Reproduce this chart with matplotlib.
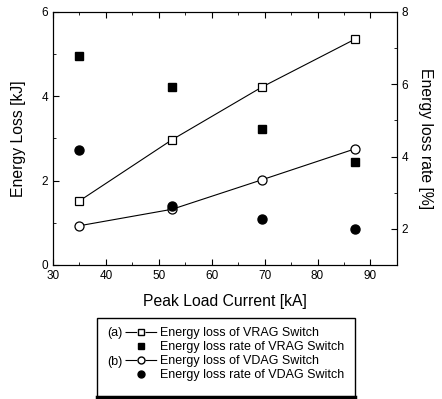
import matplotlib
matplotlib.use("Agg")
import matplotlib.pyplot as plt
from matplotlib.ticker import MultipleLocator
from matplotlib.lines import Line2D
from matplotlib.patches import Rectangle

plt.rcParams['font.family'] = ['Liberation Sans', 'DejaVu Sans']

current = [35, 52.5, 69.5, 87]
vrag_loss = [1.52, 2.97, 4.22, 5.35]
vdag_loss = [0.93, 1.32, 2.02, 2.75]
vrag_rate = [6.78, 5.93, 4.77, 3.86]
vdag_rate = [4.18, 2.63, 2.28, 2.0]

W, H = 442, 399
fig = plt.figure(figsize=(W / 100, H / 100), dpi=100)
ax = fig.add_axes([0.12, 0.336, 0.778, 0.634])
ax2 = ax.twinx()

ax.plot(current, vrag_loss, '-', color='black', lw=0.8, marker='s', ms=6,
        mfc='white', mec='black', mew=0.9)
ax.plot(current, vdag_loss, '-', color='black', lw=0.8, marker='o', ms=6.5,
        mfc='white', mec='black', mew=0.9)
ax2.plot(current, vrag_rate, 's', color='black', ms=5.5, ls='none')
ax2.plot(current, vdag_rate, 'o', color='black', ms=6.5, ls='none')

ax.set_xlim(30, 95)
ax.set_ylim(0, 6)
ax2.set_ylim(1, 8)
ax.xaxis.set_major_locator(MultipleLocator(10))
ax.xaxis.set_minor_locator(MultipleLocator(5))
ax.yaxis.set_major_locator(MultipleLocator(2))
ax.yaxis.set_minor_locator(MultipleLocator(1))
ax2.yaxis.set_major_locator(MultipleLocator(2))
ax2.yaxis.set_minor_locator(MultipleLocator(1))

ax.tick_params(which='both', direction='in', top=True, labelsize=8.5)
ax.tick_params(which='major', length=4)
ax.tick_params(which='minor', length=2)
ax2.tick_params(which='both', direction='in', labelsize=8.5)
ax2.tick_params(which='major', length=4)
ax2.tick_params(which='minor', length=2)

ax.set_xlabel('Peak Load Current [kA]', fontsize=11.3, labelpad=9)
ax.set_ylabel('Energy Loss [kJ]', fontsize=11.3, labelpad=11)
ax2.set_ylabel('Energy loss rate [%]', fontsize=11.3, rotation=270, labelpad=18)

# legend box
fig.patches.append(Rectangle((97 / W, 1 - 397 / H), (355 - 97) / W, (397 - 318) / H,
                             transform=fig.transFigure, fill=False, lw=1.0,
                             edgecolor='black'))
fig.add_artist(Line2D([97 / W, 355 / W], [1 - 396.5 / H, 1 - 396.5 / H],
                      transform=fig.transFigure, color='black', lw=2.5))

gap_style = (0, (10.5, 7.5, 10.5, 100))
handles = [
    Line2D([], [], color='black', lw=0.8, ls=gap_style, marker='s', ms=4.5,
           mfc='white', mec='black'),
    Line2D([], [], color='black', ls='none', marker='s', ms=4.5),
    Line2D([], [], color='black', lw=0.8, ls=gap_style, marker='o', ms=5,
           mfc='white', mec='black'),
    Line2D([], [], color='black', ls='none', marker='o', ms=5),
]
labels = ['Energy loss of VRAG Switch', 'Energy loss rate of VRAG Switch',
          'Energy loss of VDAG Switch', 'Energy loss rate of VDAG Switch']
leg = fig.legend(handles, labels, loc='upper left', bbox_to_anchor=(125 / W, 1 - 327 / H),
                 fontsize=9, handlelength=2.56, handletextpad=0.2, labelspacing=0.16,
                 borderpad=0, frameon=False, borderaxespad=0)
fig.text(107 / W, 1 - 333 / H, '(a)', fontsize=9, va='center', ha='left')
fig.text(107 / W, 1 - 362 / H, '(b)', fontsize=9, va='center', ha='left')

fig.savefig('out.png', dpi=100)
